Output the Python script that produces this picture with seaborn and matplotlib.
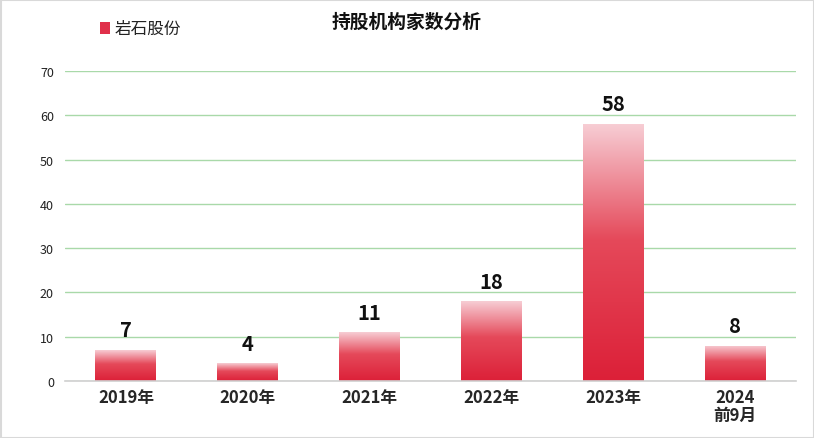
import numpy as np
import pandas as pd
import matplotlib
matplotlib.use("Agg")
import matplotlib.pyplot as plt
import seaborn as sns
from matplotlib.colors import LinearSegmentedColormap
from matplotlib.patches import Rectangle

categories = ["2019年", "2020年", "2021年", "2022年", "2023年", "2024\n前9月"]
values = [7, 4, 11, 18, 58, 8]
series_name = "岩石股份"
title = "持股机构家数分析"

sns.set_theme(style="white")
plt.rcParams['font.family'] = ['Noto Sans CJK SC', 'DejaVu Sans']

df = pd.DataFrame({"cat": categories, "val": values})

fig = plt.figure(figsize=(8.14, 4.39), dpi=100)
ax = fig.add_axes([65/814, 1-382/439, 731/814, 310/439])

sns.barplot(data=df, x="cat", y="val", ax=ax, width=0.5, color="#E0304A",
            saturation=1, label=series_name)

ax.set_ylim(0, 70)
ax.set_xlim(-0.5, len(categories) - 0.5)
ax.set_yticks(range(0, 71, 10))
ax.yaxis.grid(True, color="#A9D9A9", linewidth=1)
ax.set_axisbelow(True)
for s in ["left", "right", "top"]:
    ax.spines[s].set_visible(False)
ax.spines["bottom"].set_color("#D0D0D0")
ax.spines["bottom"].set_linewidth(1.2)
ax.set_xlabel("")
ax.set_ylabel("")
ax.tick_params(axis="y", length=0, labelsize=9, colors="#222222", pad=8)
ax.tick_params(axis="x", length=0, labelsize=12, pad=5)
for lbl in ax.get_xticklabels():
    lbl.set_fontweight("bold")
    lbl.set_linespacing(1.0)

cmap = LinearSegmentedColormap.from_list(
    "g", [(0, "#DC2038"), (0.55, "#E5495A"), (1.0, "#F7CDD4")])
grad = np.linspace(0, 1, 256).reshape(-1, 1)
for p, v in zip(ax.patches, values):
    x0, y0 = p.get_x(), p.get_y()
    w, h = p.get_width(), p.get_height()
    p.set_facecolor("none")
    p.set_edgecolor("none")
    im = ax.imshow(grad, cmap=cmap, aspect="auto", origin="lower",
                   extent=[x0, x0 + w, y0, y0 + h], zorder=2)
    im.set_clip_path(p)
    ax.annotate(str(v), (x0 + w / 2, y0 + h), xytext=(0, 7),
                textcoords="offset points", ha="center", va="bottom",
                fontsize=14.5, fontweight="bold", color="#111111")
ax.set_xlim(-0.5, len(categories) - 0.5)
ax.set_ylim(0, 70)

# legend
fig.patches.append(Rectangle((100/814, 1-35/439), 10/814, 12/439,
                             transform=fig.transFigure, facecolor="#E0304A",
                             edgecolor="none"))
fig.text(115/814, 1-29/439, series_name, fontsize=12, va="center",
         ha="left", color="#222222")
leg = ax.get_legend()
if leg is not None:
    leg.remove()

fig.text(0.5, 1-22/439, title, fontsize=13.5, fontweight="bold",
         ha="center", va="center", color="#111111")

fig.patches.append(Rectangle((0.5/814, 0.5/439), 1-1/814, 1-1/439,
                             transform=fig.transFigure, fill=False,
                             edgecolor="#D9D9D9", linewidth=1.5))

fig.savefig("out.png", dpi=100)
